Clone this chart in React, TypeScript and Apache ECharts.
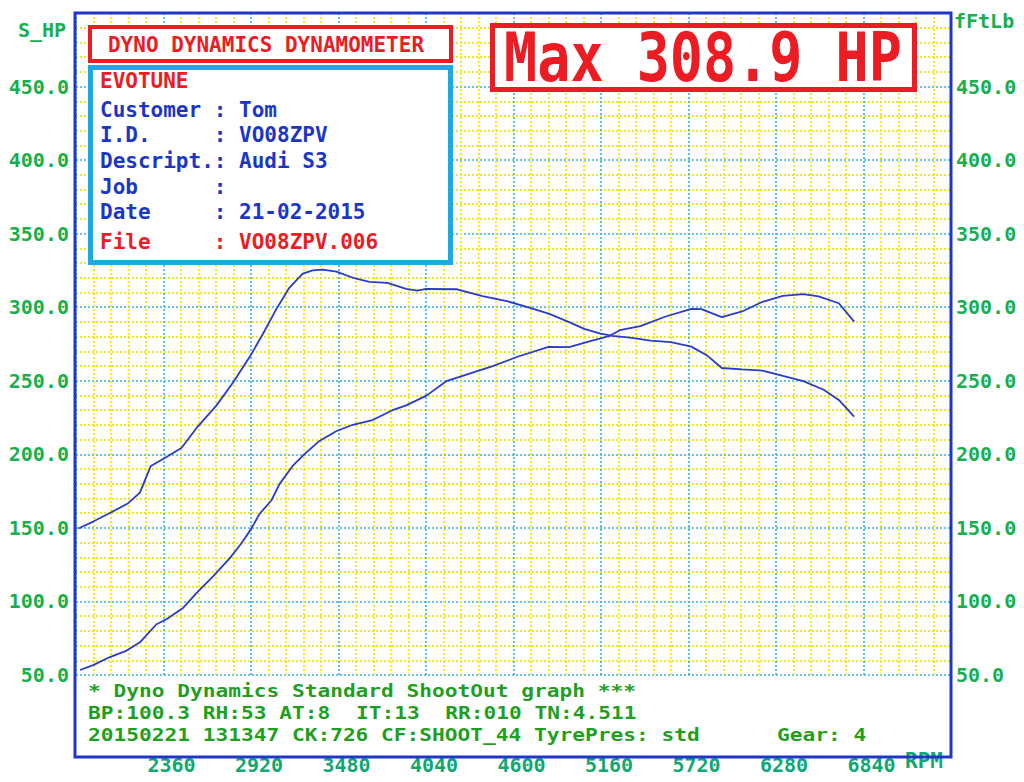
import React, { useEffect, useRef } from "react";
import * as echarts from "echarts";

// ---- data read from the dyno sheet ----
const rpmTorque = [1815, 1910, 2017, 2134, 2209, 2279, 2357, 2475, 2579, 2698, 2804, 2911, 2996, 3082, 3166, 3251, 3315, 3379, 3467, 3581, 3677, 3792, 3913, 3984, 4041, 4239, 4402, 4565, 4695, 4825, 4956, 5053, 5151, 5233, 5346, 5477, 5607, 5738, 5836, 5933, 6063, 6193, 6324, 6455, 6585, 6682, 6780];
const torqueFtLb = [149.6, 154.3, 160.1, 166.8, 174.0, 192.1, 196.8, 204.3, 218.9, 233.1, 248.6, 266.1, 281.8, 298.7, 313.4, 322.8, 325.1, 325.6, 324.2, 319.7, 317.2, 316.6, 312.5, 311.3, 312.4, 312.2, 307.5, 303.9, 299.9, 295.7, 289.9, 285.3, 282.2, 280.5, 279.3, 277.3, 276.3, 273.2, 267.4, 258.7, 257.7, 256.9, 253.3, 249.8, 243.9, 237.0, 225.7];
const rpmPower = [1826, 1910, 2017, 2124, 2209, 2315, 2379, 2485, 2571, 2677, 2783, 2858, 2922, 2975, 3050, 3103, 3188, 3262, 3358, 3465, 3571, 3698, 3826, 3913, 4043, 4174, 4304, 4467, 4630, 4825, 4956, 5086, 5216, 5281, 5412, 5574, 5738, 5803, 5933, 6063, 6194, 6324, 6454, 6552, 6682, 6780];
const powerHp = [53.4, 56.7, 62.2, 66.6, 72.2, 84.5, 87.9, 95.6, 105.7, 117.0, 129.3, 139.4, 149.5, 159.6, 168.6, 179.9, 192.3, 200.1, 209.1, 215.7, 220.1, 223.3, 230.0, 233.3, 239.9, 250.0, 254.4, 259.9, 266.5, 273.0, 272.9, 276.8, 280.6, 284.4, 287.1, 293.7, 298.8, 298.7, 293.3, 297.1, 303.7, 307.7, 308.9, 307.4, 302.7, 290.2];

const titleText = "DYNO DYNAMICS DYNAMOMETER";
const maxText = "Max 308.9 HP";
const shopName = "EVOTUNE";
const infoLabels = ["Customer", "I.D.", "Descript.", "Job", "Date", "File"];
const infoValues = ["Tom", "VO08ZPV", "Audi S3", "", "21-02-2015", "VO08ZPV.006"];
const footLine1 = "* Dyno Dynamics Standard ShootOut graph ***";
const footLine2Parts = ["BP:100.3 RH:53 AT:8", "IT:13", "RR:010 TN:4.511"];
const footLine3 = "20150221 131347 CK:726 CF:SHOOT_44 TyrePres: std";
const footGear = "Gear: 4";

const MONO = "'DejaVu Sans Mono', 'Liberation Mono', monospace";
const GREEN_Y = "#17b04e";
const GREEN_X = "#0fa872";
const GREEN_T = "#1f9f1f";
const RED = "#ec1c24";
const BLUE_T = "#1b36c6";
const CYAN = "#1fa9e1";

export default function App() {
  const ref = useRef<HTMLDivElement>(null);

  useEffect(() => {
    if (!ref.current) return;
    const chart = echarts.init(ref.current, null, { renderer: "svg" });

    const cw = 21 * 0.6021;
    const infoX = 100;
    const infoYs = [110, 135, 161, 187, 212, 242];
    const infoEls: any[] = [];
    infoLabels.forEach((lab, i) => {
      const col = lab === "File" ? RED : BLUE_T;
      infoEls.push({
        type: "text", z: 110,
        style: { text: lab, x: infoX, y: infoYs[i], fill: col, fontFamily: MONO, fontSize: 21, lineHeight: 22, fontWeight: "bold", verticalAlign: "middle", align: "left" },
      });
      infoEls.push({
        type: "text", z: 110,
        style: { text: ": " + infoValues[i], x: infoX + 9 * cw, y: infoYs[i], fill: col, fontFamily: MONO, fontSize: 21, lineHeight: 22, fontWeight: "bold", verticalAlign: "middle", align: "left" },
      });
    });

    // footer: 18px glyphs stretched horizontally to the sheet's 12.76px character pitch
    const footSize = 18;
    const fcw = 12.76;
    const footScale = fcw / (footSize * 0.6021);
    const footStyle = (text: string, x: number, y: number) => ({
      type: "text", z: 110, x, y, scaleX: footScale, scaleY: 1,
      style: { text, x: 0, y: 0, fill: GREEN_T, fontFamily: MONO, fontSize: footSize, lineHeight: 19, fontWeight: "bold", verticalAlign: "middle", align: "left" },
    });

    const gridLineMajor = { color: "#33b3e3", type: [2, 2] as any, width: 1.6 };
    const gridLineMinor = { color: "#efe81e", type: [2, 2] as any, width: 1.8 };

    chart.setOption({
      animation: false,
      backgroundColor: "#ffffff",
      grid: { left: 76, right: 73, top: 13, bottom: 107, containLabel: false },
      xAxis: {
        type: "value",
        min: 1800,
        max: 7400,
        interval: 560,
        axisLine: { show: false },
        axisTick: { show: false },
        axisLabel: {
          show: true, interval: 0, margin: 80, showMinLabel: false, showMaxLabel: false,
          color: GREEN_X, fontFamily: MONO, fontSize: 20, fontWeight: "bold",
          padding: [0, 0, 0, 16],
          formatter: (v: number) => String(v),
        },
        splitLine: { show: true, lineStyle: gridLineMajor },
        minorTick: { show: false, splitNumber: 5 },
        minorSplitLine: { show: true, lineStyle: gridLineMinor },
      },
      yAxis: [
        {
          type: "value", position: "left", min: 50, max: 500, interval: 50,
          axisLine: { show: false }, axisTick: { show: false },
          axisLabel: {
            margin: 7, showMaxLabel: false, color: GREEN_Y, fontFamily: MONO, fontSize: 20, fontWeight: "bold",
            formatter: (v: number) => v.toFixed(1),
          },
          splitLine: { show: true, lineStyle: gridLineMajor },
          minorTick: { show: false, splitNumber: 5 },
          minorSplitLine: { show: true, lineStyle: gridLineMinor },
        },
        {
          type: "value", position: "right", min: 50, max: 500, interval: 50,
          axisLine: { show: false }, axisTick: { show: false },
          axisLabel: {
            margin: 5, showMaxLabel: false, color: GREEN_Y, fontFamily: MONO, fontSize: 20, fontWeight: "bold",
            formatter: (v: number) => v.toFixed(1),
          },
          splitLine: { show: false },
        },
      ],
      series: [
        {
          name: "S_HP", type: "line", yAxisIndex: 0, showSymbol: false, z: 5,
          lineStyle: { color: "#2a3cc6", width: 1.8 },
          data: rpmPower.map((r, i) => [r, powerHp[i]]),
        },
        {
          name: "fFtLb", type: "line", yAxisIndex: 1, showSymbol: false, z: 5,
          lineStyle: { color: "#2a3cc6", width: 1.8 },
          data: rpmTorque.map((r, i) => [r, torqueFtLb[i]]),
        },
      ],
      graphic: [
        // outer frame
        { type: "rect", z: 120, shape: { x: 75, y: 13, width: 876, height: 744 }, style: { fill: "none", stroke: "#1f36c8", lineWidth: 3 } },
        // title box
        { type: "rect", z: 100, shape: { x: 90, y: 27, width: 361, height: 34 }, style: { fill: "#ffffff", stroke: RED, lineWidth: 4 } },
        { type: "text", z: 110, style: { text: titleText, x: 266, y: 45, fill: RED, fontFamily: MONO, fontSize: 21, fontWeight: "bold", align: "center", verticalAlign: "middle" } },
        // info box
        { type: "rect", z: 100, shape: { x: 90.5, y: 67.5, width: 360, height: 195 }, style: { fill: "#ffffff", stroke: CYAN, lineWidth: 5 } },
        { type: "text", z: 110, style: { text: shopName, x: infoX, y: 81, fill: RED, fontFamily: MONO, fontSize: 21, lineHeight: 22, fontWeight: "bold", align: "left", verticalAlign: "middle" } },
        ...infoEls,
        // max box
        { type: "rect", z: 100, shape: { x: 492.5, y: 25.5, width: 422, height: 64 }, style: { fill: "#ffffff", stroke: RED, lineWidth: 5 } },
        { type: "text", z: 110, x: 703, y: 58, scaleX: 0.81, scaleY: 1, style: { text: maxText, x: 0, y: 0, fill: RED, fontFamily: MONO, fontSize: 68, fontWeight: "bold", align: "center", verticalAlign: "middle" } },
        // axis names
        { type: "text", z: 110, style: { text: "S_HP", x: 18, y: 30, fill: GREEN_Y, fontFamily: MONO, fontSize: 20, fontWeight: "bold", align: "left", verticalAlign: "middle" } },
        { type: "text", z: 110, style: { text: "fFtLb", x: 954, y: 21, fill: GREEN_Y, fontFamily: MONO, fontSize: 20, fontWeight: "bold", align: "left", verticalAlign: "middle" } },
        { type: "text", z: 110, style: { text: "RPM", x: 905, y: 761, fill: GREEN_X, fontFamily: MONO, fontSize: 21, fontWeight: "bold", align: "left", verticalAlign: "middle" } },
        // footer text
        footStyle(footLine1, 88, 691),
        footStyle(footLine2Parts[0], 88, 713),
        footStyle(footLine2Parts[1], 88 + 21 * fcw, 713),
        footStyle(footLine2Parts[2], 88 + 28 * fcw, 713),
        footStyle(footLine3, 88, 735),
        footStyle(footGear, 88 + 54 * fcw, 735),
      ],
    });

    return () => chart.dispose();
  }, []);

  return (
    <div
      ref={ref}
      style={{ position: "absolute", left: 0, top: 0, width: 1024, height: 782, background: "#ffffff" }}
    />
  );
}
